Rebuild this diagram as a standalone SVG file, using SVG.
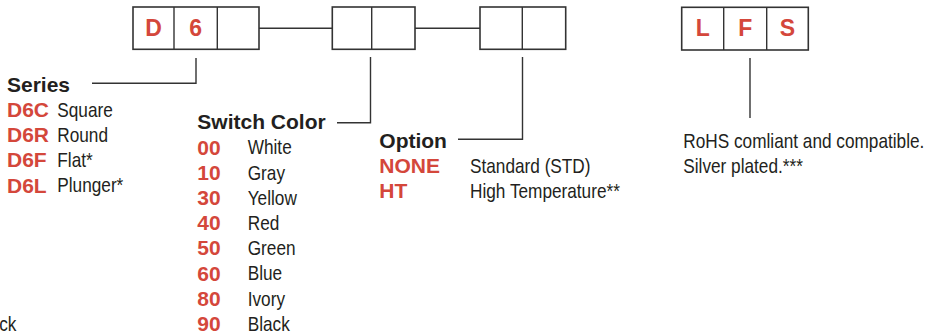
<svg xmlns="http://www.w3.org/2000/svg" width="929" height="334" viewBox="0 0 929 334">
<style>
.box{fill:#fff;stroke:#333;stroke-width:1.6}
.ln{fill:none;stroke:#333;stroke-width:1.4}
.b{font-family:"Liberation Sans",Arial,sans-serif;font-weight:bold;font-size:21px;fill:#231f20}
.r{font-family:"Liberation Sans",Arial,sans-serif;font-weight:bold;font-size:21px;fill:#d4473b}
.big{font-size:23px;text-anchor:middle}
.n{font-family:"Liberation Sans",Arial,sans-serif;font-size:21px;fill:#231f20}
</style>
<rect width="929" height="334" fill="#fff"/>
<g id="connectors">
<line class="ln" x1="259" y1="28.3" x2="332" y2="28.3"/>
<line class="ln" x1="415" y1="28.3" x2="480" y2="28.3"/>
<polyline class="ln" points="92,83.3 196,83.3 196,58"/>
<polyline class="ln" points="337,122.7 370.5,122.7 370.5,57"/>
<polyline class="ln" points="458,139.3 522.5,139.3 522.5,57"/>
<line class="ln" x1="750" y1="58" x2="750" y2="118"/>
</g>
<g id="box-series">
<rect class="box" x="133" y="7" width="126" height="42.3"/>
<line class="ln" x1="174" y1="7" x2="174" y2="49.3"/>
<line class="ln" x1="217.3" y1="7" x2="217.3" y2="49.3"/>
<text class="r big" x="153.5" y="35.5">D</text>
<text class="r big" x="195.7" y="35.5">6</text>
</g>
<g id="box-color">
<rect class="box" x="332.3" y="7" width="82.7" height="42.3"/>
<line class="ln" x1="371.7" y1="7" x2="371.7" y2="49.3"/>
</g>
<g id="box-option">
<rect class="box" x="480" y="7" width="85.7" height="42.3"/>
<line class="ln" x1="522.3" y1="7" x2="522.3" y2="49.3"/>
</g>
<g id="box-lfs">
<rect class="box" x="681.7" y="7.3" width="126.6" height="42.7"/>
<line class="ln" x1="723.7" y1="7.3" x2="723.7" y2="50"/>
<line class="ln" x1="766.7" y1="7.3" x2="766.7" y2="50"/>
<text class="r big" x="702.7" y="36">L</text>
<text class="r big" x="745.2" y="36">F</text>
<text class="r big" x="787.5" y="36">S</text>
</g>
<g id="series">
<text class="b" x="7" y="91.7">Series</text>
<text class="r" x="7" y="116.7">D6C</text>
<text class="r" x="7" y="142">D6R</text>
<text class="r" x="7" y="167.3">D6F</text>
<text class="r" x="7" y="192.5">D6L</text>
<g transform="scale(0.82,1)">
<text class="n" x="69.9" y="116.7">Square</text>
<text class="n" x="69.9" y="142">Round</text>
<text class="n" x="69.9" y="167.3">Flat*</text>
<text class="n" x="69.9" y="192.5">Plunger*</text>
</g>
</g>
<g id="switch-color">
<text class="b" x="197.3" y="129.3">Switch Color</text>
<text class="r" x="197.3" y="154.5">00</text>
<text class="r" x="197.3" y="179.7">10</text>
<text class="r" x="197.3" y="204.9">30</text>
<text class="r" x="197.3" y="230.1">40</text>
<text class="r" x="197.3" y="255.3">50</text>
<text class="r" x="197.3" y="280.5">60</text>
<text class="r" x="197.3" y="305.7">80</text>
<text class="r" x="197.3" y="330.9">90</text>
<g transform="scale(0.82,1)">
<text class="n" x="302.1" y="154.5">White</text>
<text class="n" x="302.1" y="179.7">Gray</text>
<text class="n" x="302.1" y="204.9">Yellow</text>
<text class="n" x="302.1" y="230.1">Red</text>
<text class="n" x="302.1" y="255.3">Green</text>
<text class="n" x="302.1" y="280.5">Blue</text>
<text class="n" x="302.1" y="305.7">Ivory</text>
<text class="n" x="302.1" y="330.9">Black</text>
</g>
</g>
<g id="option">
<text class="b" x="379.3" y="148.3">Option</text>
<text class="r" x="379.3" y="173.3">NONE</text>
<text class="r" x="379.3" y="198.3">HT</text>
<g transform="scale(0.82,1)">
<text class="n" x="573.2" y="173.3">Standard (STD)</text>
<text class="n" x="573.2" y="198.3">High Temperature**</text>
</g>
</g>
<g id="lfs" transform="scale(0.82,1)">
<text class="n" x="833.3" y="148.3">RoHS comliant and compatible.</text>
<text class="n" x="833.3" y="173.3">Silver plated.***</text>
</g>
<g id="fragment" transform="scale(0.82,1)">
<text class="n" x="-1" y="330.7">ck</text>
</g>
</svg>
